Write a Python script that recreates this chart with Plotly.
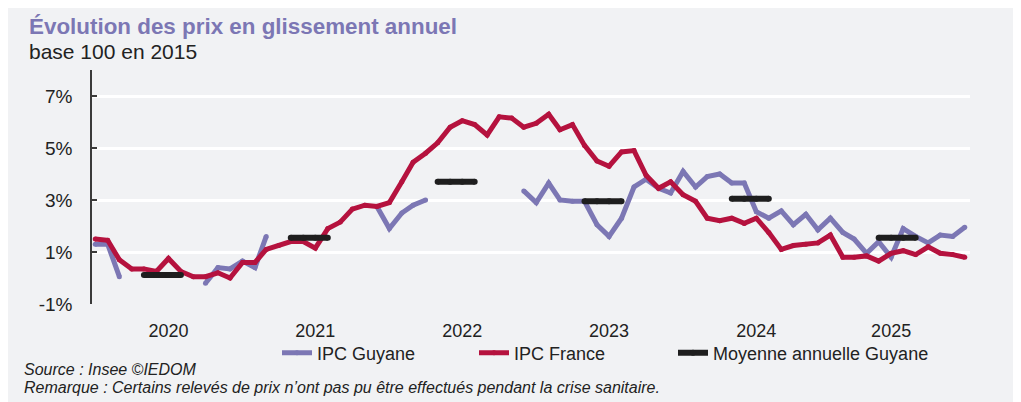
import pandas as pd
import plotly.graph_objects as go

# Mois de janvier 2020 à décembre 2025
mois = pd.date_range("2020-01-01", "2025-12-01", freq="MS")

# IPC France, glissement annuel (%)
ipc_france = [
    1.5, 1.45, 0.7, 0.35, 0.35, 0.25, 0.75, 0.25, 0.05, 0.05, 0.2, 0.0,
    0.6, 0.6, 1.1, 1.25, 1.4, 1.4, 1.15, 1.9, 2.15, 2.65, 2.8, 2.75,
    2.9, 3.7, 4.45, 4.8, 5.2, 5.8, 6.05, 5.9, 5.5, 6.2, 6.15, 5.8,
    5.95, 6.3, 5.7, 5.9, 5.1, 4.5, 4.3, 4.85, 4.9, 3.95, 3.45, 3.7,
    3.2, 2.95, 2.3, 2.2, 2.3, 2.1, 2.3, 1.75, 1.1, 1.25, 1.3, 1.35,
    1.65, 0.8, 0.8, 0.85, 0.65, 0.95, 1.05, 0.9, 1.2, 0.95, 0.9, 0.8,
]

# IPC Guyane (relevés manquants pendant la crise sanitaire)
ipc_guyane = [
    1.3, 1.3, 0.05, None, None, None, None, None, None, -0.2, 0.4, 0.35,
    0.65, 0.4, 1.6, None, None, None, None, None, None, None, None, 2.75,
    1.9, 2.5, 2.8, 3.0, None, None, None, None, None, None, None, 3.35,
    2.9, 3.65, 3.0, 2.95, 2.95, 2.05, 1.6, 2.3, 3.5, 3.8, 3.45, 3.27,
    4.1, 3.5, 3.9, 4.0, 3.65, 3.65, 2.55, 2.3, 2.58, 2.05, 2.45, 1.85,
    2.3, 1.75, 1.5, 0.95, 1.4, 0.8, 1.9, 1.6, 1.35, 1.65, 1.6, 1.95,
]

# Moyenne annuelle Guyane
annees = [2020, 2021, 2022, 2023, 2024, 2025]
moyenne_guyane = [0.12, 1.55, 3.7, 2.95, 3.05, 1.55]

# la moyenne est tracée sur les mois de mai à août de chaque année
moyenne_mensuelle = []
for d in mois:
    if 5 <= d.month <= 8:
        moyenne_mensuelle.append(moyenne_guyane[annees.index(d.year)])
    else:
        moyenne_mensuelle.append(None)

tick_dates = ["2020-07-01", "2021-07-01", "2022-07-01", "2023-07-01", "2024-07-01", "2025-06-01"]
tick_annees = ["2020", "2021", "2022", "2023", "2024", "2025"]
y_ticks = [-1, 1, 3, 5, 7]
y_labels = ["-1%", "1%", "3%", "5%", "7%"]

BLEU = "#7c77b4"
ROUGE = "#b5123e"
NOIR = "#1e1e1e"
GRIS = "#f1f2f4"
FONT = "Liberation Sans, Arial, sans-serif"

# zone de tracé (la page ajoute une marge de 8 px autour de la figure)
L, T, W, H = 84, 62, 878, 234
def px_x(p):
    return (p - 8 - L) / W
def px_y(p):
    return (T + H - (p - 8)) / H

fig = go.Figure()

fig.add_trace(go.Scatter(
    x=mois, y=ipc_guyane, name="IPC Guyane", mode="lines+markers",
    line=dict(color=BLEU, width=5),
    marker=dict(color=BLEU, size=5, line=dict(width=0)),
    legend="legend",
))
fig.add_trace(go.Scatter(
    x=mois, y=ipc_france, name="IPC France", mode="lines+markers",
    line=dict(color=ROUGE, width=5),
    marker=dict(color=ROUGE, size=5, line=dict(width=0)),
    legend="legend2",
))
fig.add_trace(go.Scatter(
    x=mois, y=moyenne_mensuelle, name="Moyenne annuelle Guyane", mode="lines+markers",
    line=dict(color=NOIR, width=6),
    marker=dict(color=NOIR, size=6, line=dict(width=0)),
    legend="legend3",
))

fig.add_annotation(
    text="<b>Évolution des prix en glissement annuel</b>",
    xref="paper", yref="paper", x=px_x(27), y=px_y(12),
    xanchor="left", yanchor="top", showarrow=False,
    font=dict(family=FONT, size=22.4, color=BLEU),
)
fig.add_annotation(
    text="base 100 en 2015",
    xref="paper", yref="paper", x=px_x(27), y=px_y(38),
    xanchor="left", yanchor="top", showarrow=False,
    font=dict(family=FONT, size=21, color="#222222"),
)
fig.add_annotation(
    text="<i>Source : Insee ©IEDOM</i>",
    xref="paper", yref="paper", x=px_x(22), y=px_y(359),
    xanchor="left", yanchor="top", showarrow=False,
    font=dict(family=FONT, size=16, color="#222222"),
)
fig.add_annotation(
    text="<i>Remarque : Certains relevés de prix n’ont pas pu être effectués pendant la crise sanitaire.</i>",
    xref="paper", yref="paper", x=px_x(22), y=px_y(377),
    xanchor="left", yanchor="top", showarrow=False,
    font=dict(family=FONT, size=16, color="#222222"),
)

legende = dict(
    orientation="h", xanchor="left", yanchor="middle",
    bgcolor="rgba(0,0,0,0)", font=dict(size=18),
)

fig.update_layout(
    width=1021, height=402,
    margin=dict(l=L, r=1021 - L - W, t=T, b=402 - T - H, autoexpand=False),
    paper_bgcolor=GRIS,
    plot_bgcolor=GRIS,
    font=dict(family=FONT, size=18, color="#222222"),
    showlegend=True,
    legend=dict(legende, x=px_x(277), y=px_y(353)),
    legend2=dict(legende, x=px_x(474), y=px_y(353)),
    legend3=dict(legende, x=px_x(673), y=px_y(353)),
)

fig.update_xaxes(
    type="date",
    range=["2019-12-24", "2025-12-14"],
    tickvals=tick_dates, ticktext=tick_annees,
    showgrid=False, showline=False, zeroline=False, ticks="",
    tickfont=dict(size=18),
    ticklabelstandoff=14,
)
fig.update_yaxes(
    range=[-1, 8],
    tickvals=y_ticks, ticktext=y_labels,
    showgrid=True, gridcolor="white", gridwidth=3,
    showline=True, linecolor="#3a3a3a", linewidth=1.5,
    ticks="inside", ticklen=5, tickcolor="#3a3a3a", tickwidth=1.5,
    zeroline=False,
    tickfont=dict(size=19),
    ticklabelstandoff=14,
)

fig.write_html("out.html")
